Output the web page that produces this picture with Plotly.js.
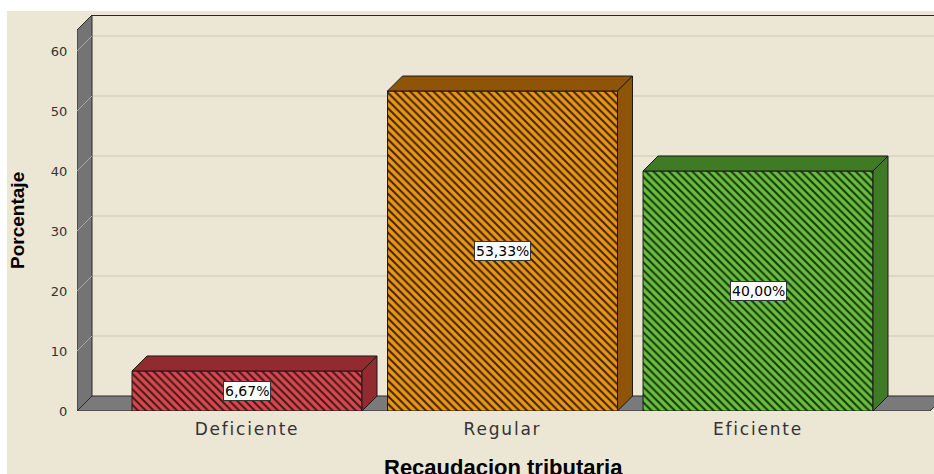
<!DOCTYPE html>
<html>
<head>
<meta charset="utf-8">
<script src="https://cdn.plot.ly/plotly-3.0.1.min.js"></script>
<style>
html,body{margin:0;padding:0;background:#ffffff;}
#chart{width:934px;height:474px;}
#chart .xtick text{letter-spacing:1.8px;}
</style>
</head>
<body>
<div id="chart"></div>
<script>
// ---- data ----
const categories = ["Deficiente", "Regular", "Eficiente"];
const values = [6.67, 53.33, 40.00];
const valueLabels = ["6,67%", "53,33%", "40,00%"];
const yTicks = [0, 10, 20, 30, 40, 50, 60];
const yTickLabels = ["0", "10", "20", "30", "40", "50", "60"];
const yTitle = "Porcentaje";
const xTitle = "Recaudacion tributaria";

// ---- styling ----
const faceColors = ["#E2434A", "#F0940F", "#62C435"];
const darkColors = ["#922B2F", "#8E5407", "#3E7B24"];
const xMin = -0.6654, xMax = 2.6888;
const yMax = 66;
const dx = 15 / 255.5;   // depth offset in category units
const dy = 2.5;          // depth offset in value units
const halfW = 0.45;
const wallTop = 63.5;
const floorRight = 2.673;

const xIdx = categories.map((c, i) => i);

const traces = [];
xIdx.forEach((x, i) => {
  traces.push({
    type: "bar",
    x: [x],
    y: [values[i]],
    width: 0.9,
    marker: {
      color: faceColors[i],
      line: {color: "#1a1a1a", width: 1},
      pattern: {shape: "\\", fillmode: "overlay", fgcolor: "#1c1c1c", fgopacity: 0.9, size: 5.5, solidity: 0.36}
    },
    hoverinfo: "skip",
    showlegend: false
  });
});

xIdx.forEach((x, i) => {
  const v = values[i];
  // top face
  traces.push({
    type: "scatter", mode: "lines", fill: "toself",
    x: [x - halfW, x - halfW + dx, x + halfW + dx, x + halfW, x - halfW],
    y: [v, v + dy, v + dy, v, v],
    fillcolor: darkColors[i], line: {color: "#1a1a1a", width: 1},
    hoverinfo: "skip", showlegend: false
  });
  // side face
  traces.push({
    type: "scatter", mode: "lines", fill: "toself",
    x: [x + halfW, x + halfW + dx, x + halfW + dx, x + halfW, x + halfW],
    y: [v, v + dy, dy, 0, v],
    fillcolor: darkColors[i], line: {color: "#1a1a1a", width: 1},
    hoverinfo: "skip", showlegend: false
  });
});

const shapes = [];
// beige background
shapes.push({type: "rect", xref: "paper", yref: "paper", x0: -0.0817, x1: 1.05, y0: -0.2, y1: 1.0101,
  fillcolor: "#ECE6D4", line: {width: 0}, layer: "below"});
// gridlines on back wall
yTicks.forEach(t => {
  if (t === 0) return;
  shapes.push({type: "path", xref: "x", yref: "y", layer: "below",
    path: `M ${xMin + dx} ${t + dy} L ${xMax + 1} ${t + dy}`,
    line: {color: "#C9C6BC", width: 1}});
});
// back wall top edge
shapes.push({type: "path", xref: "x", yref: "y", layer: "below",
  path: `M ${xMin + dx} ${yMax} L ${xMax + 1} ${yMax}`,
  line: {color: "#2a2a2a", width: 2}});
// left wall
shapes.push({type: "path", xref: "x", yref: "y", layer: "below",
  path: `M ${xMin} 0 L ${xMin} ${wallTop} L ${xMin + dx} ${yMax} L ${xMin + dx} ${dy} Z`,
  fillcolor: "#747474", line: {color: "#2a2a2a", width: 1}});
// gridline marks on left wall
yTicks.forEach(t => {
  if (t === 0) return;
  shapes.push({type: "path", xref: "x", yref: "y", layer: "below",
    path: `M ${xMin} ${t} L ${xMin + dx} ${t + dy}`,
    line: {color: "#A8A8A8", width: 1}});
});
// floor
shapes.push({type: "path", xref: "x", yref: "y", layer: "below",
  path: `M ${xMin} 0 L ${xMin + dx} ${dy} L ${floorRight + dx} ${dy} L ${floorRight} 0 Z`,
  fillcolor: "#7A7A7A", line: {color: "#2a2a2a", width: 1}});

const annotations = xIdx.map((x, i) => ({
  x: x, y: values[i] / 2, xref: "x", yref: "y",
  text: valueLabels[i], showarrow: false,
  font: {family: "DejaVu Sans", size: 14, color: "#000"},
  bgcolor: "#ffffff", bordercolor: "#333333", borderwidth: 1, borderpad: 1
}));
// y axis title
annotations.push({
  xref: "paper", yref: "paper", x: -0.0688, y: 0.48, xanchor: "center", yanchor: "middle",
  text: yTitle, textangle: -90, showarrow: false,
  font: {family: "Liberation Sans", size: 19, color: "#000", weight: "bold"}
});
// x axis title (near the bottom edge, as in the original)
annotations.push({
  xref: "paper", yref: "paper", x: (503 - 77) / 857, y: -0.105, xanchor: "center", yanchor: "top",
  text: xTitle, showarrow: false,
  font: {family: "Liberation Sans", size: 22, color: "#000", weight: "bold"}
});
annotations.push({
  xref: "paper", yref: "paper", x: -0.04, y: 1.04, xanchor: "center", yanchor: "bottom",
  text: "j", showarrow: false,
  font: {family: "DejaVu Serif", size: 16, color: "#000", style: "italic"}
});

const layout = {
  width: 934, height: 474,
  margin: {l: 77, r: 0, t: 15, b: 63},
  paper_bgcolor: "#ffffff",
  plot_bgcolor: "rgba(0,0,0,0)",
  showlegend: false,
  barmode: "overlay",
  xaxis: {
    range: [xMin, xMax],
    tickmode: "array", tickvals: xIdx, ticktext: categories,
    ticks: "outside", ticklen: 3, tickcolor: "rgba(0,0,0,0)",
    showgrid: false, zeroline: false, showline: false,
    tickfont: {family: "DejaVu Sans", size: 17, color: "#333"},
    automargin: false,
    fixedrange: true
  },
  yaxis: {
    range: [0, yMax],
    tickmode: "array", tickvals: yTicks, ticktext: yTickLabels,
    ticks: "outside", ticklen: 6, tickcolor: "rgba(0,0,0,0)",
    showgrid: false, zeroline: false, showline: false,
    tickfont: {family: "DejaVu Sans", size: 13, color: "#333"},
    automargin: false,
    fixedrange: true
  },
  shapes: shapes,
  annotations: annotations
};

Plotly.newPlot("chart", traces, layout, {displayModeBar: false, staticPlot: true});
</script>
</body>
</html>
